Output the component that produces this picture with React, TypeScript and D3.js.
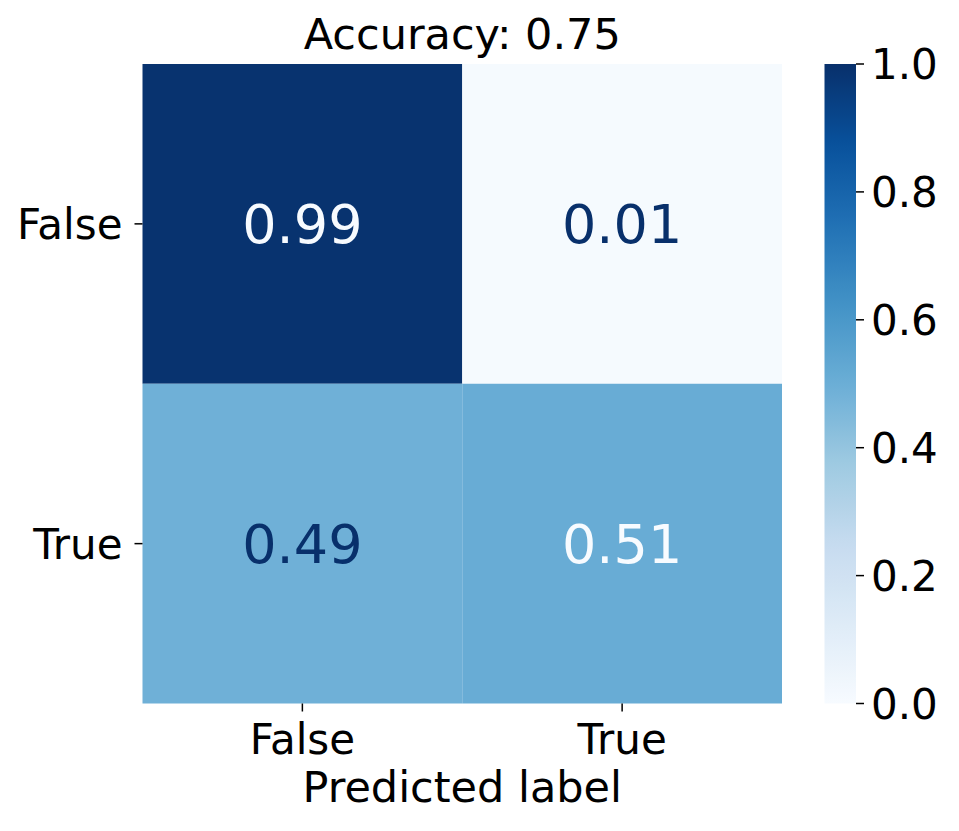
import React from "react";
import * as d3 from "d3";

const rowLabels = ["False", "True"];
const colLabels = ["False", "True"];
const values = [
  [0.99, 0.01],
  [0.49, 0.51],
];
const cbTicks = [0, 0.2, 0.4, 0.6, 0.8, 1.0];
const title = "Accuracy: 0.75";
const xLabel = "Predicted label";

const bluesColors = ["#f7fbff", "#deebf7", "#c6dbef", "#9ecae1", "#6baed6", "#4292c6", "#2171b5", "#08519c", "#08306b"];

const W = 959;
const H = 831;
const FONT = "DejaVu Sans, sans-serif";

export default function App() {
  const left = 142.5, right = 782, top = 64, bottom = 703.5;
  const x = d3.scaleBand<string>().domain(colLabels).range([left, right]);
  const y = d3.scaleBand<string>().domain(rowLabels).range([top, bottom]);
  const color = d3
    .scaleLinear<string>()
    .domain(bluesColors.map((_, i) => i / (bluesColors.length - 1)))
    .range(bluesColors)
    .interpolate(d3.interpolateRgb)
    .clamp(true);
  const vmin = 0, vmax = 1;
  const thresh = (vmin + vmax) / 2;

  const cbX0 = 824.5, cbX1 = 856;
  const cbY = d3.scaleLinear().domain([0, 1]).range([bottom, top]);
  const stops = d3.range(0, 1.0001, 0.02);
  const cx = (left + right) / 2;

  return (
    <svg width={W} height={H} style={{ position: "absolute", left: 0, top: 0, display: "block", background: "#fff" }} fontFamily={FONT}>
      <defs>
        <linearGradient id="cbgrad" x1="0" y1="1" x2="0" y2="0">
          {stops.map((s) => (
            <stop key={s} offset={s} stopColor={color(s)} />
          ))}
        </linearGradient>
      </defs>
      <text x={cx} y={49} fontSize={43} textAnchor="middle" fill="#000">{title}</text>
      {values.map((row, i) =>
        row.map((v, j) => (
          <rect key={`c${i}${j}`} x={x(colLabels[j])} y={y(rowLabels[i])} width={x.bandwidth()} height={y.bandwidth()} fill={color(v)} />
        ))
      )}
      {values.map((row, i) =>
        row.map((v, j) => (
          <text
            key={`t${i}${j}`}
            x={(x(colLabels[j]) as number) + x.bandwidth() / 2}
            y={(y(rowLabels[i]) as number) + y.bandwidth() / 2}
            dy="0.36em"
            fontSize={54}
            textAnchor="middle"
            fill={v < thresh ? color(1) : color(0)}
          >
            {v.toFixed(2)}
          </text>
        ))
      )}
      {colLabels.map((c) => {
        const px = (x(c) as number) + x.bandwidth() / 2;
        return (
          <g key={`xt${c}`}>
            <line x1={px} x2={px} y1={bottom} y2={bottom + 8} stroke="#000" strokeWidth={1.5} />
            <text x={px} y={754} fontSize={42} textAnchor="middle" fill="#000">{c}</text>
          </g>
        );
      })}
      {rowLabels.map((r) => {
        const py = (y(r) as number) + y.bandwidth() / 2;
        return (
          <g key={`yt${r}`}>
            <line x1={left - 8} x2={left} y1={py} y2={py} stroke="#000" strokeWidth={1.5} />
            <text x={left - 20} y={py} dy="0.36em" fontSize={42} textAnchor="end" fill="#000">{r}</text>
          </g>
        );
      })}
      <text x={cx} y={802} fontSize={43} textAnchor="middle" fill="#000">{xLabel}</text>
      <rect x={cbX0} y={top} width={cbX1 - cbX0} height={bottom - top} fill="url(#cbgrad)" />
      {cbTicks.map((t) => (
        <g key={`cb${t}`}>
          <line x1={cbX1} x2={cbX1 + 8} y1={cbY(t)} y2={cbY(t)} stroke="#000" strokeWidth={1.5} />
          <text x={cbX1 + 15} y={cbY(t)} dy="0.36em" fontSize={42} fill="#000">{t.toFixed(1)}</text>
        </g>
      ))}
    </svg>
  );
}
